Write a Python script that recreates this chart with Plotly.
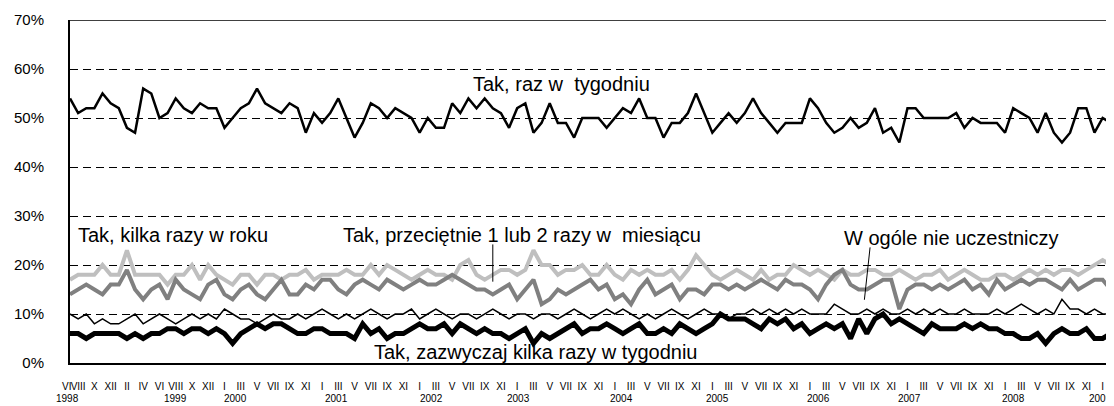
import plotly.graph_objects as go

# ---- data (percent), one value per survey, first survey VI 1998 ----
raz_w_tygodniu = [54,51,52,52,55,53,52,48,47,56,55,50,51,54,52,51,53,52,52,48,50,52,53,56,53,52,51,53,52,47,
                  51,49,51,54,50,46,49,53,52,50,52,51,50,47,50,48,48,53,51,54,52,54,52,51,48,52,53,47,49,53,
                  49,49,46,50,50,50,48,50,52,51,54,50,50,46,49,49,51,55,51,47,49,51,49,51,54,51,49,47,49,49,
                  49,54,52,49,47,48,50,48,49,52,47,48,45,52,52,50,50,50,50,51,48,50,49,49,49,47,52,51,50,47,
                  51,47,45,47,52,52,47,50,49]
kilka_razy_w_roku = [17,18,18,18,20,18,18,23,18,18,18,18,16,18,18,20,17,20,18,17,16,
                     18,18,16,18,18,17,18,18,19,17,18,18,18,19,18,18,20,18,20,19,
                     18,17,18,19,18,18,17,20,21,18,17,18,19,19,18,19,23,20,20,18,
                     19,19,20,18,18,20,18,17,19,18,19,18,18,19,17,19,22,20,18,17,
                     18,19,18,17,19,17,18,18,20,19,18,19,18,17,19,18,18,19,19,18,
                     18,19,18,17,18,18,19,17,18,19,18,17,17,18,18,17,18,19,18,19,18,19,19,18,19,20,21,20,20]
raz_dwa_w_miesiacu = [14,15,16,15,14,16,16,19,15,13,15,16,13,17,15,14,13,16,17,14,13,
                      15,16,14,13,15,17,14,14,16,15,17,17,15,14,16,17,16,15,17,16,
                      15,16,17,16,16,17,18,17,16,15,15,14,15,16,13,15,17,12,13,15,
                      14,15,16,17,15,16,13,14,12,15,17,14,15,16,13,15,15,14,16,16,
                      15,16,15,16,17,16,15,17,16,16,15,13,16,18,19,16,15,15,16,17,
                      17,11,15,16,16,15,16,15,16,17,15,16,14,17,15,16,17,16,17,17,16,15,17,15,16,17,17,15,16]
nie_uczestniczy = [10,9,10,8,9,8,8,9,10,8,9,10,9,8,9,10,9,10,9,11,10,
                   9,9,8,9,10,9,9,10,9,10,11,10,9,10,9,10,11,10,9,10,
                   10,11,9,10,11,10,9,10,10,9,10,11,10,9,10,10,9,10,10,9,
                   10,11,10,9,10,11,10,11,10,9,10,9,10,11,10,9,10,11,10,10,
                   9,10,10,11,10,11,10,11,10,11,10,10,10,12,11,10,10,11,10,11,
                   10,10,11,10,11,10,11,10,10,11,10,10,10,11,10,11,12,11,10,11,10,13,11,11,10,11,10,10,9]
kilka_razy_w_tygodniu = [6,6,5,6,6,6,6,5,6,5,6,6,7,7,6,7,7,6,7,6,4,
                         6,7,8,7,8,8,7,6,6,7,7,6,6,6,5,8,6,7,5,6,
                         6,7,8,7,7,8,6,8,7,6,7,6,6,5,6,7,4,6,5,6,
                         7,8,6,7,7,8,7,6,7,8,6,6,7,6,8,7,6,7,8,10,
                         9,9,9,8,7,9,8,9,7,8,6,7,8,7,8,5,9,6,9,10,
                         8,9,8,7,6,8,7,7,7,8,7,8,7,7,6,6,5,5,6,4,6,7,6,6,7,5,5,6,5]

# month labels shown under the axis (every second survey); the first one, VI 1998, sits at the axis start
first_label = "VI"
tick_text = (["VIII", "X", "XII"] +
             ["II", "IV", "VI", "VIII", "X", "XII"] +
             ["I", "III", "V", "VII", "IX", "XI"] * 9 +
             ["I"])
year_labels = ["1998","1999","2000","2001","2002","2003","2004","2005","2006","2007","2008","2009"]
year_pos = [0, 13, 20.4, 32.8, 44.4, 55.2, 67.8, 79.6, 92, 103.2, 116, 126.8]

n = len(raz_w_tygodniu)
x = list(range(n))
tick_vals = list(range(1, 2 * len(tick_text), 2))

fig = go.Figure()
fig.add_trace(go.Scatter(x=x, y=kilka_razy_w_roku, mode="lines",
                         line=dict(color="#BFBFBF", width=4), name="Tak, kilka razy w roku"))
fig.add_trace(go.Scatter(x=x, y=raz_dwa_w_miesiacu, mode="lines",
                         line=dict(color="#808080", width=4), name="Tak, przeciętnie 1 lub 2 razy w miesiącu"))
fig.add_trace(go.Scatter(x=x, y=nie_uczestniczy, mode="lines",
                         line=dict(color="#000000", width=1.5), name="W ogóle nie uczestniczy"))
fig.add_trace(go.Scatter(x=x, y=kilka_razy_w_tygodniu, mode="lines",
                         line=dict(color="#000000", width=5), name="Tak, zazwyczaj kilka razy w tygodniu"))
fig.add_trace(go.Scatter(x=x, y=raz_w_tygodniu, mode="lines",
                         line=dict(color="#000000", width=2.5), name="Tak, raz w tygodniu"))

font = "Liberation Sans, Arial, sans-serif"
small = dict(family=font, size=10, color="black")
ann = [dict(x=0, y=0, xref="x", yref="paper", yanchor="middle", yshift=-23, xshift=-4,
            text=first_label, showarrow=False, font=small)]
for lbl, pos in zip(year_labels, year_pos):
    ann.append(dict(x=pos, y=0, xref="x", yref="paper", yanchor="middle", yshift=-35,
                    xshift=-3 if lbl == "1998" else 0, text=lbl, showarrow=False, font=small))
lab = dict(family=font, size=20, color="black")
ann += [
    dict(x=60.5, y=57.0, text="Tak, raz w  tygodniu", showarrow=False, xanchor="center", font=lab),
    dict(x=0.7, y=26.2, text="Tak, kilka razy w roku", showarrow=False, xanchor="left", font=lab),
    dict(x=55.6, y=26.2, text="Tak, przeciętnie 1 lub 2 razy w  miesiącu", showarrow=False,
         xanchor="center", font=lab),
    dict(x=108.4, y=25.6, text="W ogóle nie uczestniczy", showarrow=False, xanchor="center", font=lab),
    dict(x=57.2, y=2.3, text="Tak, zazwyczaj kilka razy w tygodniu", showarrow=False,
         xanchor="center", font=lab),
]

shapes = [
    dict(type="line", xref="x", yref="y", x0=52.0, x1=52.0, y0=24.2, y1=16.6, line=dict(color="black", width=1)),
    dict(type="line", xref="x", yref="y", x0=98.4, x1=97.7, y0=23.6, y1=12.9, line=dict(color="black", width=1)),
    dict(type="line", xref="paper", yref="y", x0=0, x1=1, y0=70, y1=70, line=dict(color="black", width=1.5)),
]

fig.update_layout(
    width=1106, height=398,
    margin=dict(l=62, r=0, t=12, b=43),
    paper_bgcolor="white", plot_bgcolor="white",
    showlegend=False,
    annotations=ann, shapes=shapes,
    font=dict(family=font, color="black"),
)
fig.update_xaxes(range=[0, 128.4], tickmode="array", tickvals=tick_vals, ticktext=tick_text,
                 tickangle=0, tickfont=dict(size=10, family=font), showgrid=False, zeroline=False,
                 showline=True, linecolor="black", linewidth=2, ticks="", ticklabelstandoff=13)
fig.update_yaxes(range=[0, 70], tickvals=[0,10,20,30,40,50,60,70],
                 ticktext=["0%","10%","20%","30%","40%","50%","60%","70%"],
                 tickfont=dict(size=15, family=font), showgrid=True, gridcolor="black", gridwidth=1,
                 griddash="8px,5px", zeroline=False, showline=True, linecolor="black", linewidth=2,
                 ticks="", ticklabelstandoff=21)

fig.write_html("out.html")
